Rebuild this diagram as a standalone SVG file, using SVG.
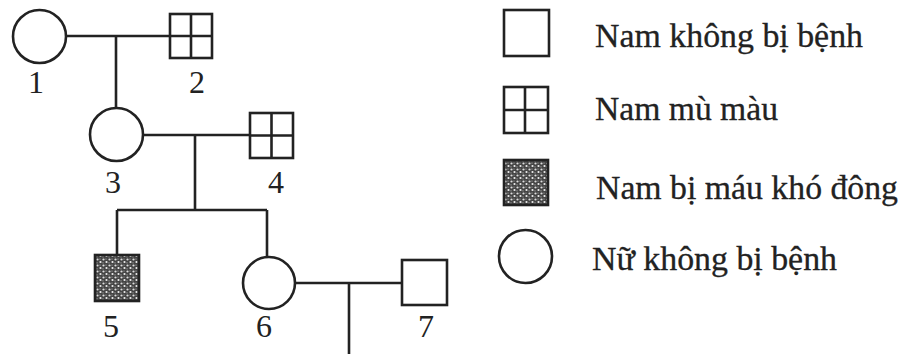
<svg xmlns="http://www.w3.org/2000/svg" width="905" height="354" viewBox="0 0 905 354">
<style>
.s{fill:#fff;stroke:#222;stroke-width:2.6}
.l{fill:none;stroke:#222;stroke-width:2.6}
.t{font-family:"Liberation Serif","Times New Roman",serif;font-size:33.5px;fill:#222;stroke:#222;stroke-width:0.3}
.n{font-family:"Liberation Serif","Times New Roman",serif;font-size:32px;fill:#222;text-anchor:middle}
</style>
<defs>
<pattern id="dots" width="6" height="6" patternUnits="userSpaceOnUse">
<rect width="6" height="6" fill="#444"/>
<circle cx="1.5" cy="1.5" r="1.1" fill="#ddd"/>
<circle cx="4.5" cy="4" r="1.1" fill="#eee"/>
<circle cx="4" cy="1" r="0.6" fill="#bbb"/>
<circle cx="1" cy="4.8" r="0.6" fill="#bbb"/>
</pattern>
</defs>
<rect width="905" height="354" fill="#fff"/>
<g id="connectors">
<path class="l" d="M66 36H170M116 36V108"/>
<path class="l" d="M143 135H250M195 135V210M117 210H267M117 210V255M267 210V257"/>
<path class="l" d="M295 283H402M349 283V354"/>
</g>
<g id="n1"><circle class="s" cx="39.5" cy="36.5" r="26.5"/><text class="n" x="36" y="93">1</text></g>
<g id="n2"><rect class="s" x="170" y="14" width="42" height="44"/><path class="l" d="M191 14V58M170 36H212"/><text class="n" x="197" y="93">2</text></g>
<g id="n3"><circle class="s" cx="116.5" cy="134.5" r="26.5"/><text class="n" x="113" y="193">3</text></g>
<g id="n4"><rect class="s" x="250" y="113" width="43" height="45"/><path class="l" d="M271.5 113V158M250 135.5H293"/><text class="n" x="276" y="193">4</text></g>
<g id="n5"><rect x="95" y="255" width="44" height="46" fill="url(#dots)" stroke="#222" stroke-width="2.6"/><text class="n" x="111" y="337">5</text></g>
<g id="n6"><circle class="s" cx="269" cy="283" r="26"/><text class="n" x="264" y="337">6</text></g>
<g id="n7"><rect class="s" x="402" y="260" width="45" height="45"/><text class="n" x="426" y="337">7</text></g>
<g id="legend">
<rect class="s" x="504" y="10" width="45" height="46"/>
<text class="t" x="595" y="47" textLength="268" lengthAdjust="spacingAndGlyphs">Nam không bị bệnh</text>
<rect class="s" x="504" y="87" width="44" height="46"/><path class="l" d="M525 87V133M504 110H548"/>
<text class="t" x="595" y="120" textLength="183" lengthAdjust="spacingAndGlyphs">Nam mù màu</text>
<rect x="504" y="160" width="44" height="45" fill="url(#dots)" stroke="#222" stroke-width="2.6"/>
<text class="t" x="596" y="199" textLength="302" lengthAdjust="spacingAndGlyphs">Nam bị máu khó đông</text>
<circle class="s" cx="525.5" cy="256.5" r="26.5"/>
<text class="t" x="592" y="270" textLength="245" lengthAdjust="spacingAndGlyphs">Nữ không bị bệnh</text>
</g>
</svg>
